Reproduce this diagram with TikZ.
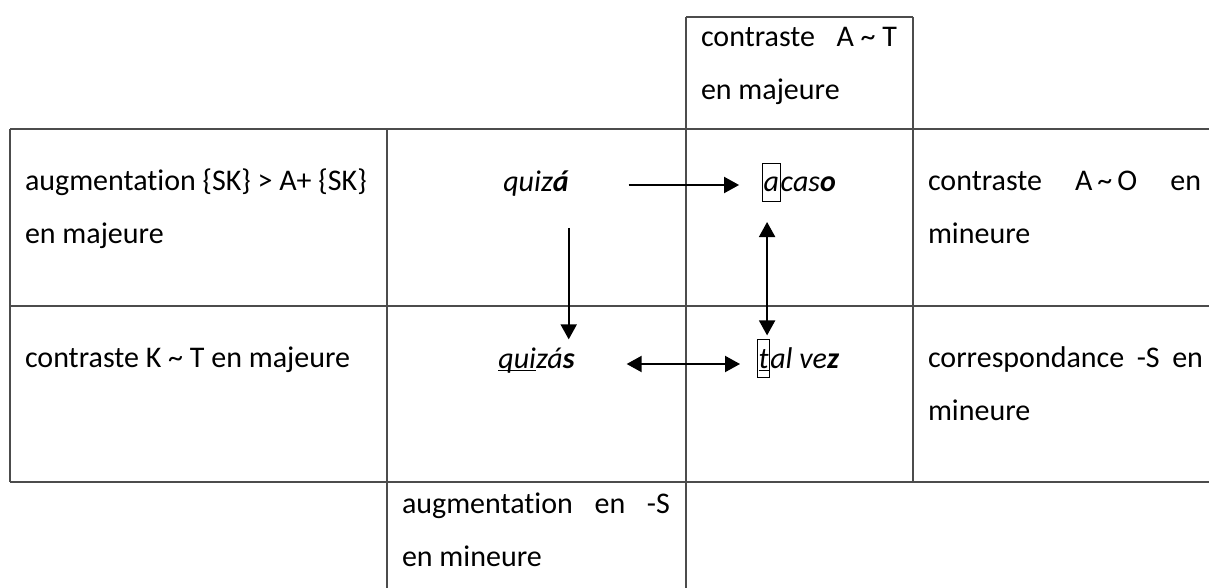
\documentclass[tikz,border=0pt]{standalone}
\usepackage{fontspec}
\setmainfont{Carlito}[Ligatures=NoCommon]
\usetikzlibrary{arrows.meta}
\newcommand\boxlet[1]{{\setlength\fboxsep{0.6pt}\setlength\fboxrule{1pt}\fbox{\vrule height 0.9em depth 0.28em width 0pt#1}}}
\newcommand\undr[1]{{\setbox0\hbox{#1}\rlap{\rule[-3pt]{\wd0}{1.3pt}}\box0}}

\begin{document}
\begin{tikzpicture}[
    x=1pt, y=-1pt,
    font=\fontsize{30}{53}\selectfont,
    every node/.style={inner sep=0pt, outer sep=0pt},
    cell/.style={anchor=base west, align=left},
    word/.style={anchor=base, font=\fontsize{30}{53}\selectfont\itshape},
    grid/.style={line width=1.2pt, black!70},
    arr/.style={line width=2pt, -{Triangle[length=15pt, width=16pt]}},
    dbl/.style={line width=2pt, {Triangle[length=15pt, width=16pt]}-{Triangle[length=15pt, width=16pt]}}
  ]
    \useasboundingbox (0,0) rectangle (1209,588);

    \draw[grid] (10,129) -- (1209,129) (10,306) -- (1209,306) (10,482) -- (1209,482);
    \draw[grid] (10,129) -- (10,482) (387,129) -- (387,588) (686,17) -- (686,588)
      (913,17) -- (913,482) (686,17) -- (913,17);

    \node[cell] (ctrAT) at (701,100) {\makebox[196pt][l]{contraste\hfill A \textasciitilde{} T}\\en majeure};
    \node[cell] (aug) at (25,243) {augmentation \{SK\} > A+ \{SK\}\\en majeure};
    \node[cell] (ctrKT) at (25,367) {contraste K \textasciitilde{} T en majeure};
    \node[cell] (ctrAO) at (928,243) {\makebox[273pt][s]{contraste A\,\textasciitilde\,O en}\\mineure};
    \node[cell] (corr) at (928,420) {\makebox[275pt][s]{correspondance -S en}\\mineure};
    \node[cell] (augS) at (402,566) {\makebox[268pt][s]{augmentation en -S}\\en mineure};

    \node[word] (quiza) at (536,192) {quiz\textbf{á}};
    \node[word] (acaso) at (799,192) {\boxlet{a}cas\textbf{o}};
    \node[word] (quizas) at (536.5,368) {\undr{qui}zá\textbf{s}};
    \node[word] (talvez) at (798,368) {\boxlet{\undr{t}}al ve\textbf{z}};

    \draw[arr, shorten <=60pt, shorten >=23pt] ([yshift=7pt]quiza.base east) -- ([yshift=7pt]acaso.base west);
    \draw[arr, shorten <=31pt, shorten >=8pt] (quiza.south east) -- (quiza.south east |- quizas.north);
    \draw[dbl, shorten <=20pt, shorten >=4pt] ([xshift=5pt]acaso.south west) -- ([xshift=5pt]acaso.south west |- talvez.north);
    \draw[dbl, shorten <=52pt, shorten >=17pt] ([yshift=4pt]quizas.base east) -- ([yshift=4pt]talvez.base west);
  \end{tikzpicture}
\end{document}
